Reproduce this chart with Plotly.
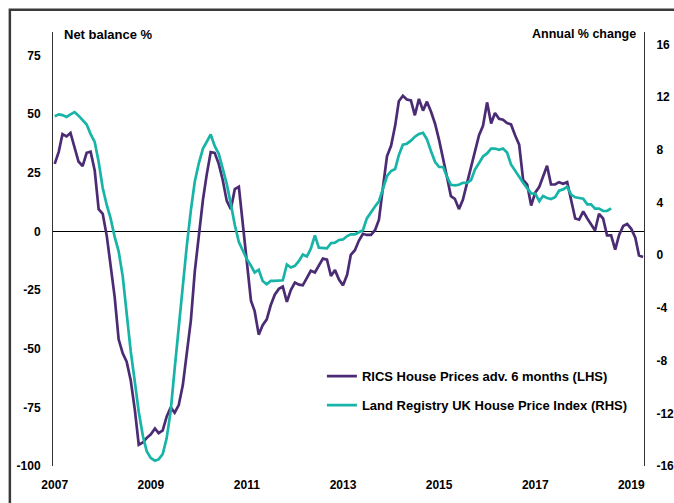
import plotly.graph_objects as go
import pandas as pd

# RICS House Prices adv. 6 months (net balance %, LHS) - monthly from Jan 2007
rics = [28.8, 34, 41.5, 40.5, 42, 35.5, 29.8, 27.8, 33.5, 34,
        26, 9.5, 7.5, -2, -14, -28, -46, -52, -55.5, -63.5,
        -76, -91, -90, -88, -86.5, -84, -86, -84.8, -79, -75,
        -77.3, -74, -65.5, -52.5, -38, -17, -2, 13.5, 24, 33.8,
        33.5, 28.8, 22, 13, 9.5, 18, 19, 4, -13, -29.5,
        -34, -44, -40, -37.5, -31.5, -27, -24.5, -23.5, -30, -25,
        -21.8, -22.7, -23, -20, -16.8, -17.5, -14.5, -11.6, -12, -19,
        -16.5, -20.5, -23, -18.5, -10, -8, -4, -1, -1.5, -1.5,
        0.5, 5, 19, 32, 36.5, 45, 55.5, 57.8, 56.2, 55.8,
        49.5, 56.5, 51.5, 55.3, 51, 46, 39, 31.5, 23.5, 15,
        13.9, 9.5, 13.5, 20.5, 27.5, 34, 41, 45, 55, 46,
        50.5, 48, 47.6, 46.2, 45.6, 41, 37, 22, 20, 11,
        16.5, 19, 23.5, 28, 20, 20, 21, 20.3, 21, 14,
        5.5, 5, 8.5, 5.5, 2.8, 0.4, 7.5, 5.5, -1.7, -1.7,
        -7.8, -1.5, 2.3, 3.2, 1.1, -2.7, -10.3, -10.9]

# Land Registry UK House Price Index (annual % change, RHS) - monthly from Jan 2007
lr = [10.56, 10.7, 10.64, 10.5, 10.7, 10.87, 10.6, 10.26, 9.93, 9.2,
      8.6, 7.1, 5.1, 3.8, 2.8, 1.4, 0.3, -1.6, -4.5, -7.3,
      -9.6, -11.9, -13.7, -14.9, -15.4, -15.6, -15.5, -15.1, -13.9, -11.8,
      -8.6, -5.3, -2.2, 0.7, 3.4, 5.6, 7.0, 8.1, 8.6, 9.17,
      8.3, 7.7, 6.6, 5.4, 3.9, 2.3, 1.0, 0.35, -0.3, -0.8,
      -1.31, -1.1, -1.95, -2.2, -1.95, -1.95, -1.95, -1.9, -0.7, -0.93,
      -0.8, -0.43, 0.05, -0.1, 0.5, 1.5, 0.58, 0.53, 0.53, 0.91,
      0.96, 1.16, 1.2, 1.46, 1.59, 1.59, 1.72, 1.9, 2.8, 3.3,
      3.7, 4.1, 5.0, 6.0, 6.4, 6.55, 7.6, 8.4, 8.47, 8.7,
      9.0, 9.2, 9.3, 8.8, 7.9, 7.1, 6.7, 6.7, 6.0, 5.35,
      5.3, 5.35, 5.5, 5.5, 5.7, 6.5, 7.0, 7.5, 7.73, 8.1,
      8.1, 8.0, 8.1, 7.8, 6.9, 6.4, 5.9, 5.5, 5.1, 4.7,
      4.68, 4.1, 4.5, 4.35, 4.27, 4.4, 4.9, 5.0, 5.2, 4.6,
      4.4, 4.37, 4.3, 3.87, 3.87, 3.54, 3.54, 3.36, 3.36, 3.56]

rics_dates = pd.date_range("2007-01-01", periods=len(rics), freq="MS")
lr_dates = pd.date_range("2007-01-01", periods=len(lr), freq="MS")

year_labels = ["2007", "2009", "2011", "2013", "2015", "2017", "2019"]
left_ticks = [-100, -75, -50, -25, 0, 25, 50, 75]
left_labels = ["-100", "-75", "-50", "-25", "0", "25", "50", "75"]
right_ticks = [-16, -12, -8, -4, 0, 4, 8, 12, 16]
right_labels = ["-16", "-12", "-8", "-4", "0", "4", "8", "12", "16"]

PURPLE = "#4B2C74"
TEAL = "#17B4A7"
FONT = "Liberation Sans, Arial, sans-serif"

fig = go.Figure()
fig.add_trace(go.Scatter(x=rics_dates, y=rics, mode="lines",
                         name="RICS House Prices adv. 6 months (LHS)", showlegend=True,
                         line=dict(color=PURPLE, width=2.7), yaxis="y", legend="legend"))
fig.add_trace(go.Scatter(x=lr_dates, y=lr, mode="lines",
                         name="Land Registry UK House Price Index (RHS)", showlegend=True,
                         line=dict(color=TEAL, width=2.7), yaxis="y2", legend="legend2"))

tickfont = dict(family=FONT, size=12, color="black", weight="bold")

fig.update_layout(
    width=674, height=503,
    margin=dict(l=53, r=30, t=32, b=37, autoexpand=False),
    showlegend=True,
    paper_bgcolor="white", plot_bgcolor="white",
    font=dict(family=FONT, color="black"),
    xaxis=dict(type="date", range=["2006-12-19", "2019-04-08"], automargin=False,
               tickvals=[f"{y}-01-01" for y in year_labels], ticktext=year_labels,
               showgrid=False, showline=False, zeroline=False, ticks="",
               tickfont=tickfont, ticklabelstandoff=10),
    yaxis=dict(range=[-100, 85], tickvals=left_ticks, ticktext=left_labels, automargin=False,
               showgrid=False, showline=True, linecolor="#333333", linewidth=1,
               zeroline=True, zerolinecolor="black", zerolinewidth=1.2,
               ticks="", tickfont=tickfont, ticklabelstandoff=9),
    yaxis2=dict(range=[-16, 16.95], tickvals=right_ticks, ticktext=right_labels,
                overlaying="y", side="right", automargin=False,
                showgrid=False, showline=True, linecolor="#333333", linewidth=1,
                zeroline=False, ticks="", tickfont=tickfont, ticklabelstandoff=9),
    legend=dict(x=0.455, y=0.207, xanchor="left", yanchor="middle",
                bgcolor="rgba(0,0,0,0)", font=dict(family=FONT, size=13, weight="bold")),
    legend2=dict(x=0.455, y=0.14, xanchor="left", yanchor="middle",
                 bgcolor="rgba(0,0,0,0)", font=dict(family=FONT, size=13, weight="bold")),
    annotations=[
        dict(text="Net balance %", xref="paper", yref="paper", x=0.015, y=0.995,
             xanchor="left", yanchor="middle", showarrow=False,
             font=dict(family=FONT, size=13, weight="bold")),
        dict(text="Annual % change", xref="paper", yref="paper", x=0.99, y=0.995,
             xanchor="right", yanchor="middle", showarrow=False,
             font=dict(family=FONT, size=12.5, weight="bold")),
    ],
    shapes=[dict(type="rect", xref="paper", yref="paper", x0=-0.073, x1=1.08,
                 y0=-0.2, y1=1.051, line=dict(color="#3a3a3a", width=2.5),
                 fillcolor="rgba(0,0,0,0)", layer="below")],
)

fig.write_html(
    "out.html",
    config={"displayModeBar": False},
    post_script="document.documentElement.style.overflow='hidden';"
                "document.body.style.margin='0';document.body.style.overflow='hidden';",
)
